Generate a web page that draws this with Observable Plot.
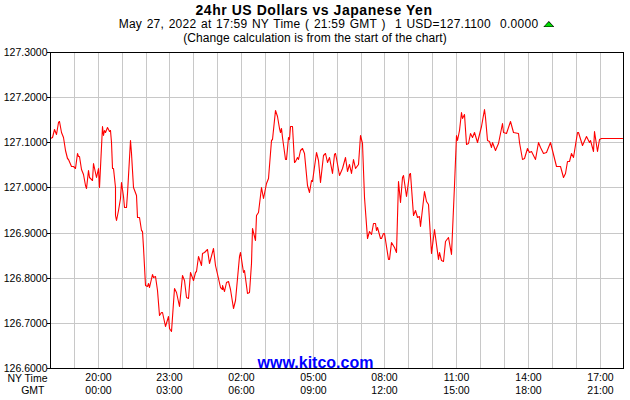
<!DOCTYPE html>
<html>
<head>
<meta charset="utf-8">
<script src="https://cdn.jsdelivr.net/npm/d3@7"></script>
<script src="https://cdn.jsdelivr.net/npm/@observablehq/plot@0.6"></script>
<style>
  html, body { margin: 0; padding: 0; background: #fff; }
  #page { width: 630px; height: 400px; overflow: hidden; font-family: "Liberation Sans", Arial, sans-serif; color: #000; }
  #head { height: 44px; position: relative; }
  #head div { position: absolute; left: 0; width: 630px; text-align: center; white-space: pre; line-height: 14px; }
  #t1 { top: 3px; font-size: 14px; font-weight: bold; letter-spacing: 0.55px; left: -1px !important; }
  #t2 { top: 17px; font-size: 12px; letter-spacing: 0.25px; word-spacing: 1px; left: 21.5px !important; }
  #t3 { top: 31px; font-size: 12px; letter-spacing: 0.08px; }
  #tri { display: inline-block; width: 11px; height: 6px; margin-left: 5px; margin-bottom: 1px; background: #000; clip-path: polygon(50% 0, 100% 100%, 0 100%); position: relative; }
  #tri i { position: absolute; left: 1px; top: 1px; width: 9px; height: 4.5px; background: #00e000; clip-path: polygon(50% 0, 100% 100%, 0 100%); }
</style>
</head>
<body>
<div id="page"><div id="head">
  <div id="t1"></div>
  <div id="t2"></div>
  <div id="t3"></div>
</div><div id="chart"></div></div>
<script>
const titleText = "24hr US Dollars vs Japanese Yen";
const subtitleText = "May 27, 2022 at 17:59 NY Time ( 21:59 GMT )  1 USD=127.1100  0.0000";
const noteText = "(Change calculation is from the start of the chart)";
const siteText = "www.kitco.com";

// hours after 18:00 NY time
const hours = [
.02,.09,.18,.26,.33,.38,.47,.54,.62,.70,.76,.86,.95,1.03,1.11,1.16,1.22,1.31,1.37,1.46,1.51,1.60,1.65,1.74,1.82,1.93,2.00,2.07,2.17,2.23,
2.28,2.32,2.39,2.46,2.50,2.56,2.60,2.64,2.70,2.74,2.78,2.84,2.91,2.99,3.05,3.10,3.17,3.24,3.36,3.41,3.49,3.58,3.66,3.74,3.80,3.86,3.91,3.99,4.05,4.09,
4.16,4.26,4.33,4.41,4.49,4.58,4.64,4.69,4.80,4.93,4.97,5.05,5.20,5.26,5.38,5.51,5.60,5.70,5.78,5.88,5.97,6.06,6.12,6.20,6.30,6.38,6.46,6.56,6.67,6.81,
6.92,7.02,7.10,7.19,7.22,7.29,7.36,7.43,7.52,7.67,7.75,7.90,7.97,8.08,8.14,8.26,8.32,8.40,8.47,8.56,8.64,8.70,8.82,8.93,9.05,9.11,9.23,9.30,9.42,9.52,
9.59,9.63,9.67,9.73,9.82,9.87,9.95,9.99,10.06,10.12,10.23,10.27,10.33,10.38,10.45,10.55,10.65,10.74,10.83,10.94,10.98,11.14,11.20,11.31,11.44,11.53,11.61,11.69,11.79,11.87,
11.92,11.99,12.10,12.23,12.35,12.43,12.50,12.59,12.67,12.78,12.88,12.98,13.05,13.16,13.27,13.37,13.45,13.54,13.61,13.65,13.70,13.80,13.87,13.95,14.00,14.13,14.18,14.29,14.41,14.49,
14.58,14.64,14.74,14.79,14.90,15.04,15.08,15.21,15.28,15.38,15.43,15.50,15.66,15.75,15.82,15.95,16.09,16.24,16.30,16.38,16.46,16.55,16.64,16.77,16.89,17.01,17.05,17.13,17.22,17.26,
17.31,17.41,17.51,17.59,17.66,17.75,17.87,18.04,18.15,18.21,18.29,18.39,18.46,18.51,18.63,18.75,18.90,18.97,19.09,19.25,19.38,19.57,19.64,19.77,19.85,19.95,20.03,20.13,20.31,20.41,
20.51,20.63,20.76,20.93,21.18,21.33,21.46,21.54,21.64,21.71,21.81,21.89,22.04,22.08,22.27,22.43,22.54,22.61,22.71,22.79,22.89,22.99,23.06,23.94
];
const rates = [
127.109,127.111,127.129,127.118,127.146,127.148,127.123,127.112,127.083,127.065,127.062,127.048,127.048,127.042,127.077,127.070,127.070,127.040,127.030,127.005,126.999,127.039,127.022,127.016,127.055,127.022,127.044,127.000,127.135,127.116,
127.127,127.122,127.133,127.126,127.127,127.101,127.042,127.042,127.002,126.939,126.928,126.950,126.976,127.013,126.980,126.957,126.957,126.987,127.105,127.076,127.000,126.983,126.935,126.935,126.906,126.904,126.869,126.784,126.781,126.788,
126.780,126.808,126.802,126.804,126.773,126.718,126.725,126.725,126.694,126.716,126.688,126.682,126.778,126.769,126.737,126.806,126.795,126.758,126.754,126.813,126.795,126.813,126.815,126.849,126.828,126.855,126.858,126.863,126.833,126.865,
126.828,126.799,126.779,126.775,126.784,126.771,126.791,126.793,126.774,126.732,126.751,126.847,126.856,126.813,126.816,126.766,126.769,126.832,126.911,126.884,126.939,126.945,127.000,126.976,127.009,127.020,127.105,127.107,127.172,127.158,
127.131,127.123,127.131,127.112,127.062,127.062,127.112,127.107,127.137,127.137,127.057,127.059,127.067,127.062,127.083,127.088,127.076,127.005,126.990,127.017,127.014,127.079,127.061,127.013,127.072,127.077,127.056,127.068,127.031,127.074,
127.076,127.065,127.028,127.042,127.068,127.037,127.053,127.033,127.062,127.042,127.053,127.116,127.098,126.979,126.887,126.904,126.897,126.922,126.921,126.906,126.913,126.887,126.887,126.900,126.898,126.841,126.841,126.880,126.869,126.856,
127.015,126.968,127.024,127.028,126.980,127.029,127.031,126.939,126.949,126.934,126.937,126.915,126.993,126.971,126.963,126.855,126.908,126.842,126.856,126.839,126.837,126.881,126.891,126.853,127.005,127.116,127.104,127.127,127.166,127.153,
127.163,127.096,127.099,127.121,127.111,127.123,127.100,127.135,127.173,127.157,127.104,127.103,127.090,127.101,127.083,127.099,127.142,127.123,127.120,127.147,127.123,127.120,127.101,127.063,127.065,127.088,127.079,127.081,127.063,127.101,
127.090,127.077,127.079,127.100,127.048,127.048,127.022,127.031,127.059,127.059,127.076,127.067,127.123,127.123,127.094,127.114,127.100,127.105,127.081,127.125,127.081,127.107,127.110,127.110
];

const gridHours = d3.range(1, 24);
const gridRates = [126.7, 126.8, 126.9, 127.0, 127.1, 127.2];
const yTicks = [126.6, 126.7, 126.8, 126.9, 127.0, 127.1, 127.2, 127.3];
const labelHours = [2, 5, 8, 11, 14, 17, 20, 23];
const nyLabels = ["20:00","23:00","02:00","05:00","08:00","11:00","14:00","17:00"];
const gmtLabels = ["00:00","03:00","06:00","09:00","12:00","15:00","18:00","21:00"];

document.getElementById("t1").textContent = titleText;
document.getElementById("t2").textContent = subtitleText;
document.getElementById("t3").textContent = noteText;
const tri = document.createElement("span"); tri.id = "tri"; tri.appendChild(document.createElement("i"));
document.getElementById("t2").appendChild(tri);

const series = hours.map((h, i) => ({h, r: rates[i]}));

const chart = Plot.plot({
  width: 630, height: 356,
  marginTop: 8, marginBottom: 32, marginLeft: 50, marginRight: 7,
  style: {background: "#fff", fontFamily: "'Liberation Sans', Arial, sans-serif", overflow: "visible"},
  x: {domain: [0, 23.983], round: true, axis: null},
  y: {domain: [126.6, 127.3], round: true, axis: null},
  marks: [
    Plot.ruleX(gridHours, {stroke: "#c8c8c8", strokeWidth: 1}),
    Plot.ruleY(gridRates, {stroke: "#c8c8c8", strokeWidth: 1}),
    Plot.text([siteText], {frameAnchor: "bottom", dx: -21.5, dy: -1, lineHeight: 1, fontSize: 16, fontWeight: "bold", fill: "#0000ff"}),
    Plot.line(series, {x: "h", y: "r", stroke: "#ff0000", strokeWidth: 1.1}),
    Plot.frame({stroke: "#000", strokeWidth: 1}),
    Plot.axisY({ticks: yTicks, tickFormat: d => d.toFixed(4), tickSize: 3, tickPadding: 0, fontSize: 10.5, label: null, color: "#000", stroke: "#000"}),
    Plot.axisX({ticks: labelHours, tickFormat: (d, i) => nyLabels[i], tickSize: 0, tickPadding: 5, fontSize: 10.5, label: null}),
    Plot.axisX({ticks: labelHours, tickFormat: (d, i) => gmtLabels[i], tickSize: 0, tickPadding: 18, fontSize: 10.5, label: null}),
    Plot.text(["NY Time"], {frameAnchor: "bottom-left", textAnchor: "end", lineAnchor: "top", dx: -3, dy: 6, fontSize: 10.5}),
    Plot.text(["GMT"], {frameAnchor: "bottom-left", textAnchor: "end", lineAnchor: "top", dx: -6, dy: 18, fontSize: 10.5})
  ]
});
document.getElementById("chart").appendChild(chart);
</script>
</body>
</html>
